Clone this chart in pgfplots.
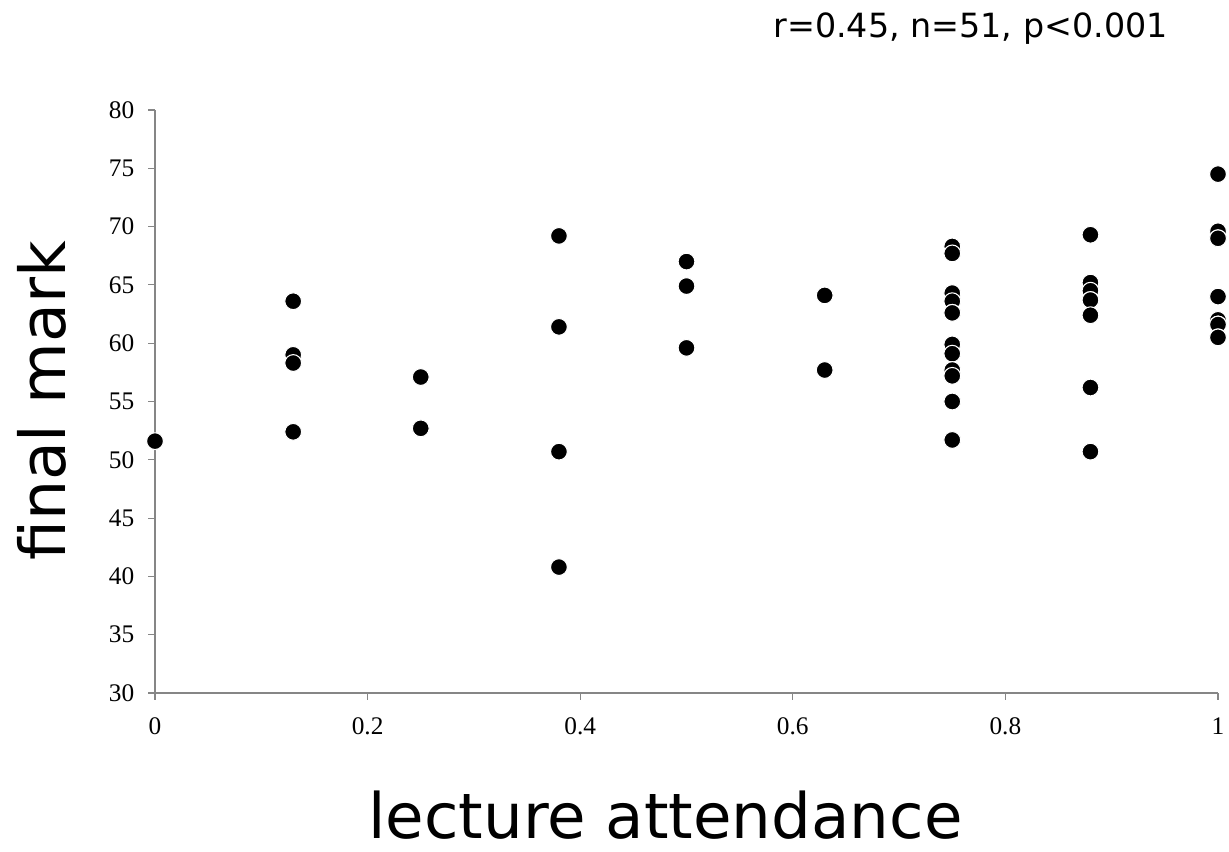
\documentclass[border=0pt]{standalone}
\usepackage{pgfplots}
\pgfplotsset{compat=1.18}
\usepackage{fontspec}
\setmainfont{Liberation Serif}
\newfontfamily\verd{DejaVu Sans}
\definecolor{axgray}{HTML}{868686}
\begin{document}
\begin{tikzpicture}[x=0.75pt,y=0.75pt]
\path[use as bounding box] (0,0) rectangle (1229,851);
\begin{axis}[
  at={(155*0.75pt,158*0.75pt)}, anchor=south west,
  scale only axis, width=797.25pt, height=437.25pt,
  xmin=0, xmax=1, ymin=30, ymax=80,
  xtick={0,0.2,0.4,0.6,0.8,1}, ytick={30,35,...,80},
  axis lines=left, axis line style={-, axgray, line width=0.9pt},
  tick style={axgray, line width=0.9pt},
  tick align=outside, major tick length=5pt,
  /pgf/number format/assume math mode=true,
  ticklabel style={font=\fontsize{19}{21}\selectfont},
  yticklabel style={xshift=-7pt},
  xticklabel style={yshift=-10pt},
  clip=false,
]
\addplot[only marks, mark=*, mark size=6.3pt, mark options={fill=black, draw=white, line width=0.8pt}] table {
x y
0 51.6
0.13 63.6
0.13 59.0
0.13 58.3
0.13 52.4
0.25 57.1
0.25 52.7
0.25 52.7
0.38 69.2
0.38 61.4
0.38 50.7
0.38 40.8
0.5 67.0
0.5 64.9
0.5 59.6
0.5 59.6
0.63 64.1
0.63 57.7
0.75 68.3
0.75 67.7
0.75 64.3
0.75 63.6
0.75 62.6
0.75 62.6
0.75 59.9
0.75 59.1
0.75 57.7
0.75 57.2
0.75 55.0
0.75 55.0
0.75 51.7
0.75 51.7
0.88 69.3
0.88 65.2
0.88 64.5
0.88 63.7
0.88 63.7
0.88 62.4
0.88 56.2
0.88 50.7
0.88 50.7
1 74.5
1 69.6
1 69.0
1 69.0
1 64.0
1 62.0
1 61.6
1 61.6
1 60.5
1 60.5
};
\end{axis}
\node[rotate=90, anchor=base, inner sep=0pt, font=\verd\fontsize{47.5}{52}\selectfont] at (65,450) {final mark};
\node[anchor=base, inner sep=0pt, font=\verd\fontsize{47}{52}\selectfont] at (665.5,13) {lecture attendance};
\node[anchor=base east, inner sep=0pt, font=\verd\fontsize{25}{29}\selectfont] at (1168,813) {r=0.45, n=51, p<0.001};
\end{tikzpicture}
\end{document}
